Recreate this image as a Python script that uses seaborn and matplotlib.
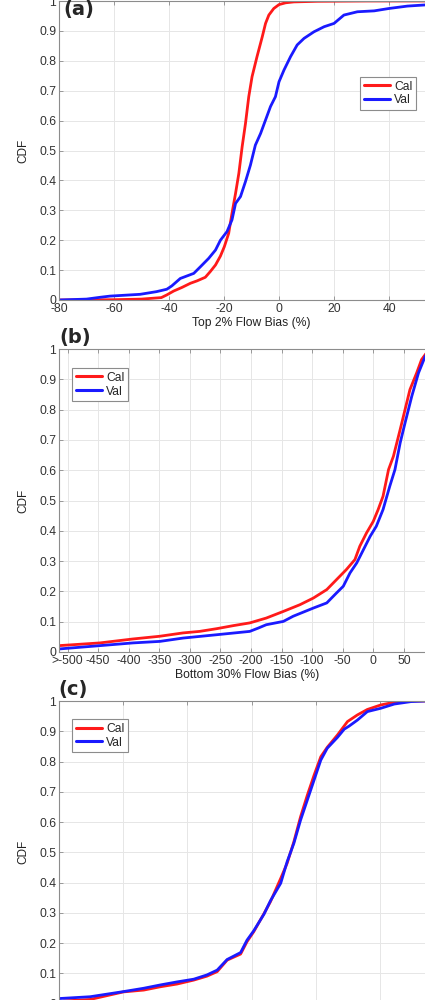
import matplotlib
matplotlib.use("Agg")
import numpy as np
import pandas as pd
import seaborn as sns
import matplotlib.pyplot as plt
from matplotlib.ticker import FuncFormatter

# ---- data (x = bias, y = cumulative fraction) ----
top_cal_x = [-80, -60, -50, -42.8, -40.8, -38.3, -35.3, -32.2, -29.8, -26.8, -25, -23.1, -21.3, -19.9,
             -18.3, -17.1, -15.8, -14.6, -13.4, -12.2, -11, -9.8, -8, -6.1, -4.9, -3.7, -1.9, 0,
             2.4, 5.4, 13.9, 32, 60]
top_cal_y = [0, 0.001, 0.003, 0.008, 0.017, 0.03, 0.042, 0.056, 0.064, 0.076, 0.095, 0.117, 0.147, 0.178,
             0.223, 0.29, 0.357, 0.424, 0.513, 0.59, 0.68, 0.747, 0.814, 0.88, 0.925, 0.953, 0.975, 0.988,
             0.994, 0.997, 0.999, 1.0, 1.0]
top_val_x = [-80, -70, -65.1, -61.5, -50.5, -44.5, -40.8, -39, -35.9, -31, -28.6, -25.6, -23.1, -21.3,
             -18.9, -17.1, -15.8, -14, -12.2, -10.4, -8.6, -6.7, -4.9, -3.1, -1.3, 0, 1.8, 4.2, 6.6,
             9.1, 12.7, 16.4, 20, 23.6, 28.5, 34.6, 40, 46.7, 53.4, 60]
top_val_y = [0, 0.003, 0.009, 0.013, 0.019, 0.028, 0.036, 0.047, 0.072, 0.089, 0.111, 0.139, 0.167, 0.2,
             0.229, 0.268, 0.323, 0.346, 0.396, 0.451, 0.518, 0.557, 0.602, 0.647, 0.68, 0.73, 0.769, 0.814, 0.853,
             0.875, 0.897, 0.914, 0.925, 0.953, 0.964, 0.967, 0.975, 0.983, 0.987, 0.99]

bot_cal_x = [-514, -447, -393, -349, -311, -284, -256, -229, -202, -175, -147, -120, -98, -76, -60, -44,
             -30, -22, -11, 0, 8, 16, 25, 33, 44, 52, 60, 71, 79, 87, 95, 100]
bot_cal_y = [0.021, 0.030, 0.043, 0.052, 0.063, 0.068, 0.077, 0.087, 0.096, 0.112, 0.134, 0.156, 0.178,
             0.206, 0.239, 0.272, 0.305, 0.349, 0.393, 0.431, 0.47, 0.514, 0.602, 0.646, 0.734, 0.8, 0.866,
             0.921, 0.965, 0.987, 1.0, 1.0]
bot_val_x = [-514, -447, -393, -349, -311, -256, -202, -188, -175, -147, -131, -98, -76, -60, -49, -38,
             -27, -16, -5, 5, 16, 27, 35.5, 44, 52, 63, 74, 85, 93, 98, 100]
bot_val_y = [0.01, 0.021, 0.03, 0.035, 0.046, 0.057, 0.068, 0.079, 0.09, 0.101, 0.118, 0.145, 0.162,
             0.195, 0.217, 0.261, 0.294, 0.338, 0.382, 0.415, 0.47, 0.547, 0.602, 0.69, 0.756, 0.844, 0.921,
             0.976, 0.998, 1.0, 1.0]

c_cal_x = [-100, -90.3, -79.9, -73.6, -68.4, -63.2, -58, -53.9, -50.7, -47.6, -43.4, -41.4, -39.3, -36.1,
           -34.1, -30.9, -28.9, -26.8, -24.7, -22.6, -20.5, -18.4, -16.4, -13.2, -10.1, -7, -3.9, 0.3,
           4.5, 9.7, 20]
c_cal_y = [0.008, 0.014, 0.039, 0.045, 0.056, 0.065, 0.078, 0.091, 0.106, 0.144, 0.164, 0.205, 0.238, 0.298,
           0.337, 0.414, 0.464, 0.535, 0.618, 0.689, 0.755, 0.816, 0.847, 0.888, 0.932, 0.954, 0.972, 0.987,
           0.996, 1.0, 1.0]
c_val_x = [-100, -90.3, -79.9, -73.6, -68.4, -63.2, -58, -53.9, -50.7, -47.6, -43.4, -41.4, -39.3, -36.1,
           -34.1, -30.9, -28.9, -26.8, -24.7, -22.6, -20.5, -18.4, -16.4, -13.2, -11.1, -9.6, -7, -3.9,
           0.3, 4.5, 9.7, 14.4, 20]
c_val_y = [0.017, 0.023, 0.04, 0.051, 0.062, 0.072, 0.081, 0.095, 0.111, 0.146, 0.169, 0.21, 0.241, 0.296,
           0.34, 0.398, 0.469, 0.53, 0.607, 0.673, 0.739, 0.805, 0.844, 0.88, 0.907, 0.917, 0.937, 0.965,
           0.976, 0.99, 0.998, 1.0, 1.0]

top_ticks = [-80, -60, -40, -20, 0, 20, 40, 60]
bot_ticks = [-500, -450, -400, -350, -300, -250, -200, -150, -100, -50, 0, 50, 100]
bot_ticklabels = ['>-500', '-450', '-400', '-350', '-300', '-250', '-200', '-150', '-100', '-50', '0', '50', '100']
c_ticks = [-100, -80, -60, -40, -20, 0, 20]


def make_df(cal_x, cal_y, val_x, val_y):
    d1 = pd.DataFrame({'bias': cal_x, 'cdf': cal_y, 'Run': 'Cal'})
    d2 = pd.DataFrame({'bias': val_x, 'cdf': val_y, 'Run': 'Val'})
    return pd.concat([d1, d2], ignore_index=True)


sns.set_style("whitegrid")
plt.rcParams['font.family'] = ['Liberation Sans', 'DejaVu Sans']
plt.rcParams['axes.unicode_minus'] = False

fig = plt.figure(figsize=(4.25, 10), dpi=100)

palette = {'Cal': '#ff1a1a', 'Val': '#1a1aff'}
grey = '#8c8c8c'

panels = [
    # axes rect, data, xlim, ticks, ticklabels, xlabel, legend loc, legend anchor
    ([0.1388, 0.700, 0.906, 0.299], make_df(top_cal_x, top_cal_y, top_val_x, top_val_y),
     (-80, 60), top_ticks, None, 'Top 2% Flow Bias (%)', 'upper right', (0.927, 0.746)),
    ([0.1388, 0.348, 0.8833, 0.303], make_df(bot_cal_x, bot_cal_y, bot_val_x, bot_val_y),
     (-514, 100), bot_ticks, bot_ticklabels, 'Bottom 30% Flow Bias (%)', 'upper left', (0.035, 0.937)),
    ([0.1388, -0.0037, 0.906, 0.3027], make_df(c_cal_x, c_cal_y, c_val_x, c_val_y),
     (-100, 20), c_ticks, None, '', 'upper left', (0.034, 0.94)),
]

for rect, df, xlim, ticks, ticklabels, xlabel, loc, anchor in panels:
    ax = fig.add_axes(rect)
    sns.lineplot(data=df, x='bias', y='cdf', hue='Run', palette=palette, sort=False,
                 estimator=None, linewidth=2.0, ax=ax)
    ax.set_xlim(*xlim)
    ax.set_ylim(0, 1)
    ax.set_xticks(ticks)
    if ticklabels is not None:
        ax.set_xticklabels(ticklabels)
    ax.set_yticks(np.arange(0, 1.01, 0.1))
    ax.yaxis.set_major_formatter(FuncFormatter(lambda v, p: f"{v:g}"))
    ax.grid(True, color='#e6e6e6', linewidth=0.7)
    for s in ax.spines.values():
        s.set_color(grey)
        s.set_linewidth(0.8)
    ax.tick_params(direction='in', length=3, width=0.6, color=grey, labelcolor='#333333',
                   labelsize=8.7, pad=2, top=True, right=True, bottom=True, left=True)
    ax.set_ylabel('CDF', fontsize=8.5, color='#222222')
    ax.yaxis.set_label_coords(-0.078, 0.5)
    ax.set_xlabel(xlabel, fontsize=8.7, color='#222222')
    ax.xaxis.set_label_coords(0.5, -0.056)
    leg = ax.legend(loc=loc, bbox_to_anchor=anchor, borderaxespad=0, fontsize=8.7,
                    frameon=True, fancybox=False, framealpha=1, edgecolor=grey,
                    handlelength=2.2, handletextpad=0.3, labelspacing=0.15, borderpad=0.3,
                    title=None)
    leg.get_frame().set_linewidth(0.8)
    for h in leg.get_lines():
        h.set_linewidth(2.2)

fig.text(0.186, 0.991, '(a)', fontsize=14, fontweight='bold', family='DejaVu Sans', ha='center', va='center')
fig.text(0.178, 0.663, '(b)', fontsize=14, fontweight='bold', family='DejaVu Sans', ha='center', va='center')
fig.text(0.172, 0.310, '(c)', fontsize=14, fontweight='bold', family='DejaVu Sans', ha='center', va='center')

fig.savefig('out.png', dpi=100)
